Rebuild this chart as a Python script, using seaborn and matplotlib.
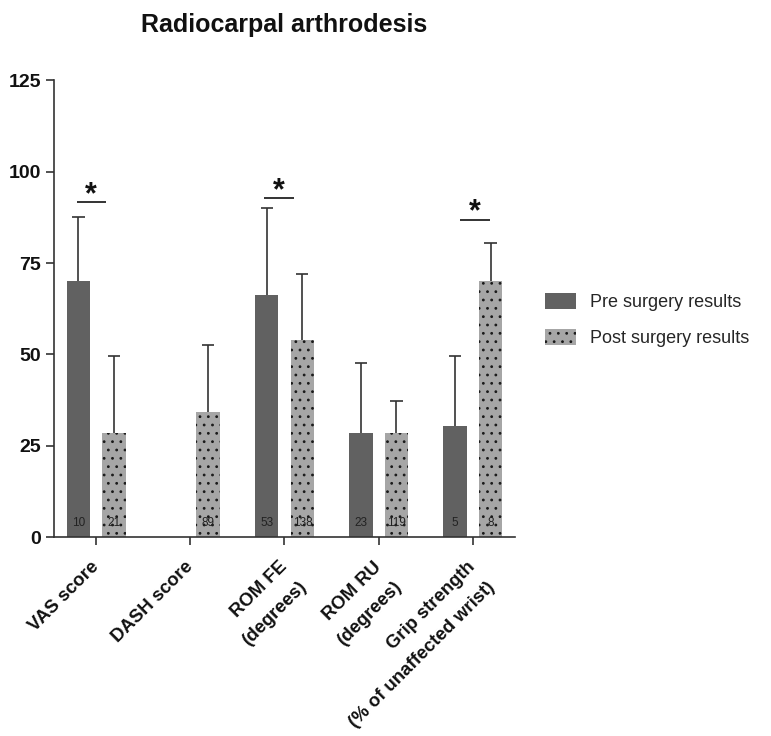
import numpy as np
import pandas as pd
import matplotlib
matplotlib.use("Agg")
import matplotlib.pyplot as plt
from matplotlib.patches import Patch
from matplotlib.transforms import ScaledTranslation
import seaborn as sns

# ---- data -------------------------------------------------------------
categories = ["VAS score", "DASH score", "ROM FE\n(degrees)",
              "ROM RU\n(degrees)", "Grip strength\n(% of unaffected wrist)"]
groups = ["Pre surgery results", "Post surgery results"]

pre_mean = [70.0, np.nan, 66.3, 28.5, 30.5]
pre_sd = [17.7, np.nan, 23.7, 19.1, 19.2]
post_mean = [28.4, 34.3, 54.0, 28.5, 70.1]
post_sd = [21.1, 18.2, 17.9, 8.7, 10.4]

pre_n = [10, None, 53, 23, 5]
post_n = [21, 89, 138, 119, 8]

# significance brackets: (category index, left offset, right offset, height)
sig_marks = [(0, -0.21, 0.10, 91.6), (2, -0.22, 0.10, 92.7), (4, -0.14, 0.18, 86.8)]

yticks = [0, 25, 50, 75, 100, 125]

# ---- style ------------------------------------------------------------
sns.set_theme(style="white")
plt.rcParams["font.family"] = ["Liberation Sans", "DejaVu Sans"]
plt.rcParams["hatch.linewidth"] = 0.8

pre_color = "#616161"
post_color = "#a6a6a6"
dark = "#333333"

df = pd.DataFrame({
    "category": categories * 2,
    "group": [groups[0]] * len(categories) + [groups[1]] * len(categories),
    "mean": pre_mean + post_mean,
})

fig = plt.figure(figsize=(7.71, 7.36), dpi=100)
ax = fig.add_axes([0.070, 0.270, 0.598, 0.621])

sns.barplot(data=df, x="category", y="mean", hue="group", order=categories,
            hue_order=groups, palette=[pre_color, post_color], errorbar=None,
            width=0.76, gap=0.34, linewidth=0, saturation=1, legend=False, ax=ax)

means = {groups[0]: pre_mean, groups[1]: post_mean}
sds = {groups[0]: pre_sd, groups[1]: post_sd}
counts = {groups[0]: pre_n, groups[1]: post_n}

for container, g in zip(ax.containers, groups):
    for bar in container:
        h = bar.get_height()
        if not np.isfinite(h):
            continue
        xc = bar.get_x() + bar.get_width() / 2
        i = int(round(xc))
        if g == groups[1]:
            bar.set_hatch("..")
            bar.set_edgecolor("#1a1a1a")
            bar.set_linewidth(0)
        m, s = means[g][i], sds[g][i]
        ax.vlines(xc, m, m + s, color=dark, lw=1.2, zorder=3)
        ax.hlines(m + s, xc - 0.065, xc + 0.065, color=dark, lw=1.2, zorder=3)
        n = counts[g][i]
        if n is not None:
            ax.text(xc, 3.8, str(n), ha="center", va="center", fontsize=8.5,
                    color="#222222", zorder=4)

for i, x0, x1, y in sig_marks:
    ax.hlines(y, i + x0, i + x1, color="#111111", lw=1.2)
    ax.text(i + (x0 + x1) / 2, y - 2.1, "*", ha="center", va="bottom",
            fontsize=22, fontweight="bold", color="#111111")

ax.set_xlim(-0.45, 4.45)
ax.set_ylim(0, 125)
ax.set_yticks(yticks)
ax.set_yticklabels([str(t) for t in yticks], fontsize=14, fontweight="bold")
ax.set_xlabel("")
ax.set_ylabel("")
ax.set_xticks(range(len(categories)))

for side in ["top", "right"]:
    ax.spines[side].set_visible(False)
for side in ["left", "bottom"]:
    ax.spines[side].set_color(dark)
    ax.spines[side].set_linewidth(1.2)
ax.tick_params(axis="both", length=6, width=1.2, color=dark, direction="out",
               left=True, bottom=True, labelcolor="#111111")
ax.grid(False)

ax.set_xticklabels(categories, rotation=45, ha="right", va="top",
                   rotation_mode="anchor", fontsize=13.3, fontweight="bold",
                   linespacing=1.85)
shift = ScaledTranslation(-0.06, -0.08, fig.dpi_scale_trans)
for lab in ax.get_xticklabels():
    lab.set_transform(lab.get_transform() + shift)

fig.text(0.368, 0.966, "Radiocarpal arthrodesis", ha="center", va="center",
         fontsize=18, fontweight="bold", color="#111111")

handles = [Patch(facecolor=pre_color, linewidth=0),
           Patch(facecolor=post_color, hatch="..", edgecolor="#1a1a1a", linewidth=0)]
fig.legend(handles, groups, loc="center left", bbox_to_anchor=(0.686, 0.565),
           frameon=False, fontsize=13, handlelength=1.7, handleheight=1.0,
           labelspacing=1.0, handletextpad=0.8)

fig.savefig("out.png", dpi=100)
